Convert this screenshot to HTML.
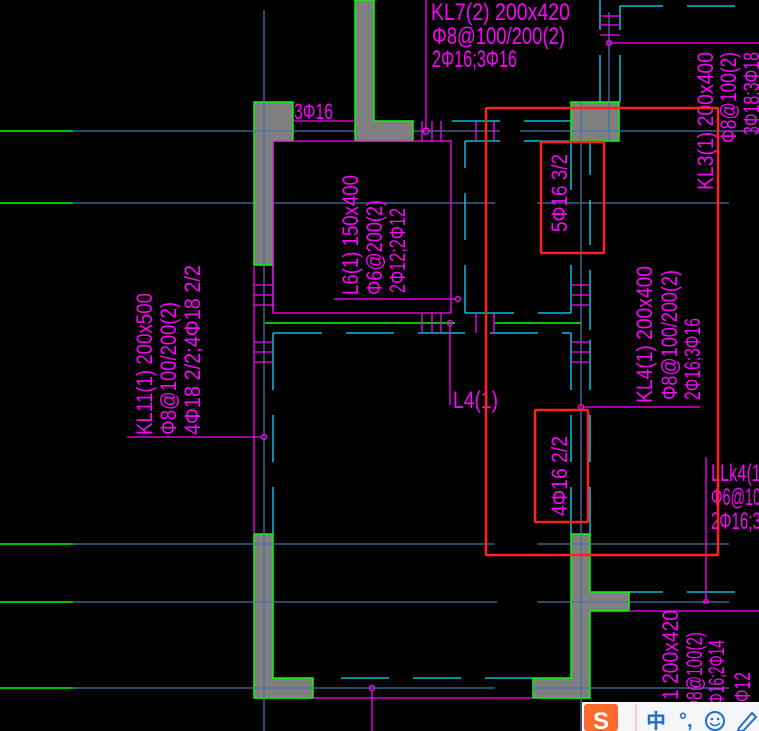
<!DOCTYPE html>
<html><head><meta charset="utf-8"><style>
html,body{margin:0;padding:0;background:#000;overflow:hidden}
svg{display:block}
text{font-family:"Liberation Sans","Noto Sans CJK SC",sans-serif;fill:#ff00ff}
</style></head><body>
<svg width="759" height="731" viewBox="0 0 759 731" xmlns="http://www.w3.org/2000/svg">
<rect width="759" height="731" fill="#000"/>
<!-- blue axis lines -->
<g stroke="#4a6fa5" stroke-width="1.3" fill="none">
<line x1="73" y1="131" x2="500" y2="131"/><line x1="520" y1="131" x2="759" y2="131"/>
<line x1="73" y1="203" x2="495" y2="203"/><line x1="537" y1="203" x2="729" y2="203"/>
<line x1="73" y1="544" x2="495" y2="544"/><line x1="537" y1="544" x2="729" y2="544"/>
<line x1="73" y1="602" x2="497" y2="602"/><line x1="537" y1="602" x2="729" y2="602"/>
<line x1="73" y1="688" x2="495" y2="688"/><line x1="537" y1="688" x2="729" y2="688"/>
<line x1="264" y1="10" x2="264" y2="731"/>
<line x1="581" y1="131" x2="581" y2="731"/>
<line x1="609" y1="12" x2="609" y2="141"/>
<line x1="272" y1="131" x2="272" y2="155"/>
</g>
<g stroke="#00ff00" stroke-width="1.5">
<line x1="0" y1="131" x2="73" y2="131"/><line x1="0" y1="203" x2="73" y2="203"/>
<line x1="0" y1="544" x2="73" y2="544"/><line x1="0" y1="602" x2="73" y2="602"/>
<line x1="0" y1="688" x2="73" y2="688"/>
<line x1="265" y1="323" x2="455" y2="323"/><line x1="495" y1="323" x2="581" y2="323"/>
</g>
<!-- cyan lines -->
<g stroke="#00e5ff" stroke-width="1.3" fill="none">
<line x1="620" y1="6" x2="663" y2="6"/><line x1="687" y1="6" x2="735" y2="6"/>
<line x1="600" y1="0" x2="600" y2="30"/><line x1="620" y1="6" x2="620" y2="30"/>
<line x1="600" y1="55" x2="600" y2="102"/><line x1="620" y1="55" x2="620" y2="102"/>
<line x1="452" y1="121" x2="500" y2="121"/><line x1="524" y1="121" x2="571" y2="121"/>
<line x1="465" y1="141" x2="500" y2="141"/><line x1="524" y1="141" x2="571" y2="141"/>
<line x1="465" y1="141" x2="465" y2="168"/><line x1="465" y1="193" x2="465" y2="240"/><line x1="465" y1="265" x2="465" y2="313"/>
<line x1="465" y1="313" x2="514" y2="313"/><line x1="538" y1="313" x2="571" y2="313"/>
<line x1="571" y1="141" x2="571" y2="190"/><line x1="571" y1="265" x2="571" y2="313"/>
<line x1="590" y1="141" x2="590" y2="175"/><line x1="590" y1="200" x2="590" y2="245"/><line x1="590" y1="270" x2="590" y2="330"/>
<line x1="273" y1="333" x2="322" y2="333"/><line x1="346" y1="333" x2="394" y2="333"/><line x1="418" y1="333" x2="465" y2="333"/><line x1="490" y1="333" x2="538" y2="333"/><line x1="562" y1="333" x2="571" y2="333"/>
<line x1="273" y1="333" x2="273" y2="390"/><line x1="273" y1="415" x2="273" y2="462"/><line x1="273" y1="487" x2="273" y2="534"/>
<line x1="571" y1="333" x2="571" y2="390"/><line x1="571" y1="415" x2="571" y2="462"/><line x1="571" y1="487" x2="571" y2="534"/>
<line x1="590" y1="340" x2="590" y2="390"/><line x1="590" y1="415" x2="590" y2="462"/><line x1="590" y1="487" x2="590" y2="534"/>
<line x1="273" y1="265" x2="273" y2="310"/>
<line x1="341" y1="678" x2="389" y2="678"/><line x1="413" y1="678" x2="461" y2="678"/><line x1="485" y1="678" x2="533" y2="678"/>
<line x1="629" y1="592" x2="663" y2="592"/><line x1="687" y1="592" x2="735" y2="592"/>
</g>
<!-- walls -->
<g fill="#808080" stroke="#00ff00" stroke-width="1.5">
<polygon points="254,102 293,102 293,141 273,141 273,265 254,265"/>
<polygon points="355,0 374,0 374,121 413,121 413,141 355,141"/>
<polygon points="571,102 619,102 619,141 571,141"/>
<polygon points="254,534 273,534 273,678 313,678 313,698 254,698"/>
<polygon points="571,534 590,534 590,592 629,592 629,611 590,611 590,698 533,698 533,678 571,678"/>
</g>
<g stroke="#4a6fa5" stroke-width="1.3">
<line x1="254" y1="131" x2="293" y2="131"/><line x1="264" y1="102" x2="264" y2="265"/>
<line x1="571" y1="131" x2="619" y2="131"/><line x1="581" y1="102" x2="581" y2="141"/><line x1="609" y1="102" x2="609" y2="141"/>
<line x1="254" y1="544" x2="273" y2="544"/><line x1="254" y1="602" x2="273" y2="602"/><line x1="254" y1="688" x2="313" y2="688"/><line x1="264" y1="534" x2="264" y2="698"/>
<line x1="571" y1="544" x2="590" y2="544"/><line x1="571" y1="602" x2="629" y2="602"/><line x1="533" y1="688" x2="590" y2="688"/><line x1="581" y1="534" x2="581" y2="698"/>
</g>
<!-- magenta lines -->
<g stroke="#ff00ff" stroke-width="1.3" fill="none">
<rect x="273" y="141" width="178" height="172"/>
<line x1="293" y1="121" x2="355" y2="121"/>
<line x1="426" y1="0" x2="426" y2="130"/>
<circle cx="426" cy="131" r="3"/>
<line x1="422" y1="121" x2="422" y2="141"/><line x1="432" y1="121" x2="432" y2="141"/><line x1="441" y1="121" x2="441" y2="141"/>
<line x1="476" y1="121" x2="476" y2="141"/><line x1="494" y1="121" x2="494" y2="141"/>
<line x1="610" y1="43" x2="759" y2="43"/><rect x="607" y="41" width="4" height="4"/>
<line x1="600" y1="16" x2="620" y2="16"/><line x1="600" y1="25" x2="620" y2="25"/><line x1="600" y1="35" x2="620" y2="35"/>
<line x1="254" y1="265" x2="254" y2="534"/>
<line x1="254" y1="285" x2="273" y2="285"/><line x1="254" y1="295" x2="273" y2="295"/><line x1="254" y1="305" x2="273" y2="305"/>
<line x1="254" y1="342" x2="273" y2="342"/><line x1="254" y1="352" x2="273" y2="352"/><line x1="254" y1="362" x2="273" y2="362"/>
<line x1="571" y1="285" x2="590" y2="285"/><line x1="571" y1="295" x2="590" y2="295"/><line x1="571" y1="305" x2="590" y2="305"/>
<line x1="571" y1="342" x2="590" y2="342"/><line x1="571" y1="352" x2="590" y2="352"/><line x1="571" y1="362" x2="590" y2="362"/>
<line x1="422" y1="313" x2="422" y2="333"/><line x1="432" y1="313" x2="432" y2="333"/><line x1="441" y1="313" x2="441" y2="333"/>
<line x1="476" y1="313" x2="476" y2="333"/><line x1="494" y1="313" x2="494" y2="333"/>
<line x1="334" y1="299" x2="456" y2="299"/><circle cx="458" cy="299" r="2.5"/>
<line x1="450" y1="326" x2="450" y2="405"/><circle cx="450" cy="323" r="2.5"/>
<line x1="127" y1="437" x2="262" y2="437"/><circle cx="264" cy="437" r="2.5"/>
<line x1="583" y1="407" x2="700" y2="407"/><circle cx="581" cy="407" r="2.5"/>
<line x1="706" y1="457" x2="706" y2="600"/><rect x="704" y="600" width="4" height="3"/>
<line x1="629" y1="611" x2="759" y2="611"/>
<line x1="313" y1="698" x2="533" y2="698"/>
<line x1="372" y1="690" x2="372" y2="731"/><circle cx="372" cy="688" r="2.5"/>
</g>
<!-- text -->
<g font-size="24">
<text x="431" y="20" textLength="139" lengthAdjust="spacingAndGlyphs">KL7(2) 200x420</text>
<text x="432" y="44" textLength="133" lengthAdjust="spacingAndGlyphs">Φ8@100/200(2)</text>
<text x="432" y="67" textLength="85" lengthAdjust="spacingAndGlyphs">2Φ16;3Φ16</text>
<text x="294" y="119" textLength="39" lengthAdjust="spacingAndGlyphs" font-size="22">3Φ16</text>
<text x="453" y="408" textLength="45" lengthAdjust="spacingAndGlyphs">L4(1)</text>
<text x="711" y="481" textLength="50" lengthAdjust="spacingAndGlyphs">LLk4(1</text>
<text x="711" y="505" textLength="50" lengthAdjust="spacingAndGlyphs">Φ6@10</text>
<text x="711" y="529" textLength="50" lengthAdjust="spacingAndGlyphs">2Φ16;3</text>
<g font-size="22">
<text transform="translate(358,295) rotate(-90)" textLength="120" lengthAdjust="spacingAndGlyphs">L6(1) 150x400</text>
<text transform="translate(382,295) rotate(-90)" textLength="95" lengthAdjust="spacingAndGlyphs">Φ6@200(2)</text>
<text transform="translate(405,293) rotate(-90)" textLength="85" lengthAdjust="spacingAndGlyphs">2Φ12;2Φ12</text>
<text transform="translate(152,435) rotate(-90)" textLength="142" lengthAdjust="spacingAndGlyphs">KL11(1) 200x500</text>
<text transform="translate(176,435) rotate(-90)" textLength="133" lengthAdjust="spacingAndGlyphs">Φ8@100/200(2)</text>
<text transform="translate(200,435) rotate(-90)" textLength="170" lengthAdjust="spacingAndGlyphs">4Φ18 2/2;4Φ18 2/2</text>
<text transform="translate(652,403) rotate(-90)" textLength="137" lengthAdjust="spacingAndGlyphs">KL4(1) 200x400</text>
<text transform="translate(677,400) rotate(-90)" textLength="130" lengthAdjust="spacingAndGlyphs">Φ8@100/200(2)</text>
<text transform="translate(700,400) rotate(-90)" textLength="82" lengthAdjust="spacingAndGlyphs">2Φ16;3Φ16</text>
<text transform="translate(713,190) rotate(-90)" textLength="138" lengthAdjust="spacingAndGlyphs">KL3(1) 200x400</text>
<text transform="translate(736,143) rotate(-90)" textLength="91" lengthAdjust="spacingAndGlyphs">Φ8@100(2)</text>
<text transform="translate(759,135) rotate(-90)" textLength="83" lengthAdjust="spacingAndGlyphs">3Φ18;3Φ18</text>
<text transform="translate(567,232) rotate(-90)" textLength="78" lengthAdjust="spacingAndGlyphs">5Φ16 3/2</text>
<text transform="translate(567,516) rotate(-90)" textLength="80" lengthAdjust="spacingAndGlyphs">4Φ16 2/2</text>
<text transform="translate(678,700) rotate(-90)" textLength="90" lengthAdjust="spacingAndGlyphs">1 200x420</text>
<text transform="translate(702,712) rotate(-90)" textLength="80" lengthAdjust="spacingAndGlyphs">Φ8@100(2)</text>
<text transform="translate(724,712) rotate(-90)" textLength="72" lengthAdjust="spacingAndGlyphs">2Φ16;2Φ14</text>
<text transform="translate(750,702) rotate(-90)" textLength="30" lengthAdjust="spacingAndGlyphs">Φ12</text>
</g>
</g>
<!-- red boxes -->
<g fill="none" stroke="#ff2020" stroke-width="2.5">
<rect x="486" y="108" width="232" height="447" rx="1"/>
<rect x="541" y="142" width="63" height="111" rx="1"/>
<rect x="535" y="410" width="53" height="112" rx="1"/>
</g>
<!-- IME toolbar -->
<rect x="582" y="702" width="177" height="29" fill="#f4f6f8"/>
<rect x="584" y="704" width="34" height="27" rx="3" fill="#ff6a2a"/>
<text x="593" y="729" font-size="24" font-weight="bold" style="fill:#fff">S</text>
<line x1="636" y1="704" x2="636" y2="731" stroke="#f0b0a0" stroke-width="1"/>
<text x="646" y="728" font-size="20" font-weight="bold" style="fill:#1e6fd0;font-family:'Liberation Sans','Noto Sans CJK SC',sans-serif">中</text>
<text x="679" y="727" font-size="20" font-weight="bold" style="fill:#1e6fd0">°,</text>
<circle cx="715" cy="721" r="9" fill="none" stroke="#1e6fd0" stroke-width="2"/>
<circle cx="712" cy="719" r="1.3" fill="#1e6fd0"/><circle cx="718" cy="719" r="1.3" fill="#1e6fd0"/>
<path d="M710 723 Q715 728 720 723" fill="none" stroke="#1e6fd0" stroke-width="1.5"/>
<path d="M739 728 L752 713 L756 717 L743 731 L738 731 Z" fill="none" stroke="#1e6fd0" stroke-width="2"/>
</svg>
</body></html>
